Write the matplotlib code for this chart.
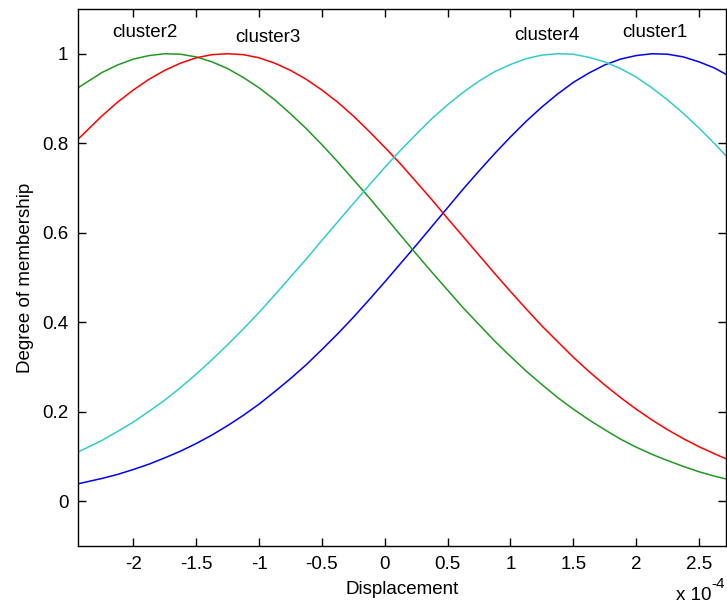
import matplotlib
matplotlib.use("Agg")
import matplotlib.pyplot as plt

plt.rcParams['font.family'] = ['Liberation Sans', 'DejaVu Sans']

# displacement samples (x 1e-4) and membership values
disp = [-2.44, -2.25, -2.125, -2.0, -1.875, -1.75, -1.625, -1.5, -1.375, -1.25,
        -1.125, -1.0, -0.875, -0.75, -0.625, -0.5, -0.375, -0.25, -0.125, 0.0,
        0.125, 0.25, 0.375, 0.5, 0.625, 0.75, 0.875, 1.0, 1.125, 1.25,
        1.375, 1.5, 1.625, 1.75, 1.875, 2.0, 2.125, 2.25, 2.375, 2.5,
        2.625, 2.715]

cluster1 = [0.039, 0.051, 0.060, 0.071, 0.083, 0.097, 0.112, 0.129, 0.148, 0.169,
            0.192, 0.217, 0.245, 0.274, 0.305, 0.339, 0.374, 0.411, 0.450, 0.490,
            0.531, 0.572, 0.614, 0.656, 0.698, 0.738, 0.777, 0.814, 0.849, 0.881,
            0.910, 0.936, 0.957, 0.975, 0.988, 0.996, 1.000, 0.999, 0.993, 0.982,
            0.968, 0.954]
cluster2 = [0.924, 0.958, 0.975, 0.988, 0.996, 1.000, 0.999, 0.993, 0.982, 0.967,
            0.947, 0.924, 0.897, 0.866, 0.833, 0.797, 0.759, 0.719, 0.679, 0.637,
            0.595, 0.553, 0.512, 0.472, 0.432, 0.395, 0.358, 0.324, 0.291, 0.261,
            0.232, 0.206, 0.182, 0.160, 0.139, 0.121, 0.105, 0.091, 0.078, 0.066,
            0.056, 0.050]
cluster3 = [0.809, 0.861, 0.892, 0.919, 0.943, 0.963, 0.979, 0.991, 0.998, 1.000,
            0.998, 0.991, 0.979, 0.963, 0.943, 0.919, 0.892, 0.861, 0.827, 0.791,
            0.754, 0.714, 0.674, 0.632, 0.591, 0.550, 0.509, 0.469, 0.430, 0.392,
            0.357, 0.322, 0.290, 0.260, 0.232, 0.206, 0.182, 0.160, 0.140, 0.122,
            0.106, 0.095]
cluster4 = [0.110, 0.136, 0.156, 0.177, 0.201, 0.226, 0.254, 0.284, 0.316, 0.350,
            0.385, 0.422, 0.461, 0.501, 0.541, 0.583, 0.624, 0.665, 0.706, 0.746,
            0.784, 0.820, 0.855, 0.886, 0.914, 0.939, 0.960, 0.976, 0.989, 0.997,
            1.000, 0.999, 0.992, 0.982, 0.967, 0.948, 0.924, 0.897, 0.867, 0.834,
            0.799, 0.772]

labels = ["cluster2", "cluster3", "cluster4", "cluster1"]
label_x = [-1.91, -0.93, 1.29, 2.15]
label_y = [1.047, 1.036, 1.040, 1.047]

xticks = [-2, -1.5, -1, -0.5, 0, 0.5, 1, 1.5, 2, 2.5]
yticks = [0, 0.2, 0.4, 0.6, 0.8, 1]

fig = plt.figure(figsize=(7.27, 6.09), dpi=100)
ax = fig.add_axes([0.1073, 0.1034, 0.8913, 0.8818])

ax.plot(disp, cluster1, color='#0000ff', lw=1.1)
ax.plot(disp, cluster2, color='#1f9a1f', lw=1.1)
ax.plot(disp, cluster3, color='#ff0000', lw=1.1)
ax.plot(disp, cluster4, color='#33cccc', lw=1.1)

for t, x, y in zip(labels, label_x, label_y):
    ax.text(x, y, t, ha='center', va='center', fontsize=13.5)

ax.set_xlim(-2.44, 2.715)
ax.set_ylim(-0.1, 1.1)
ax.set_xticks(xticks)
ax.set_xticklabels(["%g" % v for v in xticks])
ax.set_yticks(yticks)
ax.set_yticklabels(["%g" % v for v in yticks])
ax.tick_params(direction='in', top=True, right=True, length=6, width=1,
               labelsize=13.5, pad=7)
for s in ax.spines.values():
    s.set_linewidth(1)

ax.set_xlabel("Displacement", fontsize=13.5, labelpad=6)
ax.set_ylabel("Degree of membership", fontsize=13.5, labelpad=6)

# exponent note in the bottom-right corner, MATLAB style
fig.text(0.979, 0.008, "x 10", fontsize=13.5, ha='right', va='bottom')
fig.text(0.979, 0.030, "-4", fontsize=11, ha='left', va='bottom')

fig.savefig("out.png", dpi=100, facecolor='white')
